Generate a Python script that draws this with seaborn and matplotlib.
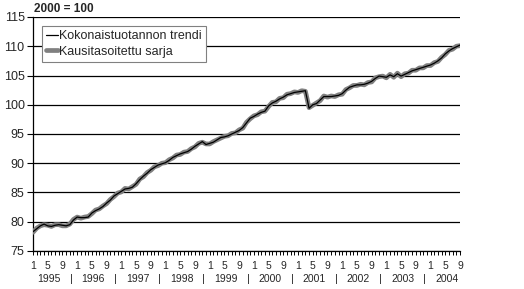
import numpy as np
import pandas as pd
import seaborn as sns
import matplotlib
matplotlib.use("Agg")
import matplotlib.pyplot as plt
import matplotlib.transforms as mtransforms

years = [1995, 1996, 1997, 1998, 1999, 2000, 2001, 2002, 2003, 2004]
month_labels = ["1", "5", "9"]

trend = [
    78.3, 78.8, 79.3, 79.6, 79.3, 79.2, 79.4, 79.5, 79.4, 79.3, 79.5, 80.3,
    80.8, 80.7, 80.7, 80.8, 81.5, 81.9, 82.2, 82.6, 83.2, 83.7, 84.4, 84.8,
    85.2, 85.6, 85.7, 85.9, 86.5, 87.2, 87.8, 88.3, 88.9, 89.3, 89.7, 89.9,
    90.1, 90.5, 91.0, 91.3, 91.6, 91.8, 92.0, 92.4, 92.9, 93.3, 93.7, 93.2,
    93.4, 93.6, 94.0, 94.4, 94.5, 94.7, 95.0, 95.3, 95.6, 96.1, 96.9, 97.7,
    98.0, 98.4, 98.7, 98.9, 99.8, 100.3, 100.6, 101.0, 101.3, 101.7, 101.9, 102.1,
    102.2, 102.3, 102.4, 99.4, 100.0, 100.2, 100.8, 101.4, 101.4, 101.4, 101.5, 101.6,
    101.9, 102.5, 103.0, 103.2, 103.4, 103.4, 103.5, 103.7, 104.0, 104.5, 104.9, 104.8,
    104.7, 105.1, 104.8, 105.3, 104.9, 105.2, 105.5, 105.8, 106.0, 106.2, 106.4, 106.6,
    106.8, 107.1, 107.5, 108.0, 108.7, 109.2, 109.6, 109.9, 110.2,
]

seasonal = [
    78.2, 78.9, 79.3, 79.5, 79.4, 79.2, 79.5, 79.5, 79.3, 79.3, 79.6, 80.4,
    80.8, 80.6, 80.8, 80.9, 81.4, 82.0, 82.2, 82.7, 83.1, 83.8, 84.3, 84.9,
    85.1, 85.7, 85.6, 86.0, 86.4, 87.3, 87.7, 88.4, 88.8, 89.4, 89.6, 90.0,
    90.1, 90.6, 90.9, 91.4, 91.5, 91.9, 92.0, 92.5, 92.8, 93.4, 93.6, 93.3,
    93.3, 93.7, 94.0, 94.3, 94.6, 94.7, 95.1, 95.2, 95.7, 96.0, 97.0, 97.6,
    98.1, 98.3, 98.8, 98.9, 99.7, 100.4, 100.5, 101.1, 101.2, 101.8, 101.9, 102.2,
    102.1, 102.4, 102.3, 99.5, 99.9, 100.3, 100.7, 101.5, 101.3, 101.5, 101.4, 101.7,
    101.8, 102.6, 102.9, 103.3, 103.3, 103.5, 103.4, 103.8, 103.9, 104.6, 104.8, 104.9,
    104.6, 105.2, 104.7, 105.4, 104.8, 105.3, 105.4, 105.9, 105.9, 106.3, 106.3, 106.7,
    106.7, 107.2, 107.4, 108.1, 108.6, 109.3, 109.5, 110.0, 110.1,
]

n = len(trend)
df = pd.DataFrame({"m": np.arange(n), "trend": trend, "seasonal": seasonal})

sns.set_style("white")
plt.rcParams["font.family"] = ["Liberation Sans", "DejaVu Sans"]

fig = plt.figure(figsize=(5.24, 2.89), dpi=100)
ax = fig.add_axes([33 / 524, 1 - 251 / 289, (460 - 33) / 524, (251 - 17) / 289])

sns.lineplot(data=df, x="m", y="seasonal", ax=ax, color="#808080", lw=3.4,
             label="Kausitasoitettu sarja", zorder=3)
sns.lineplot(data=df, x="m", y="trend", ax=ax, color="black", lw=0.9,
             label="Kokonaistuotannon trendi", zorder=4)

ax.set_xlim(0, n - 1)
ax.set_ylim(75, 115)
ax.set_yticks(np.arange(75, 116, 5))
ax.tick_params(axis="y", labelsize=9, length=4, width=0.8, color="black",
               direction="out", left=True, pad=2)
ax.yaxis.grid(True, color="black", lw=0.9)
ax.set_axisbelow(True)

major = []
labels = []
for i, y in enumerate(years):
    for j, lab in zip([0, 4, 8], month_labels):
        if 12 * i + j < n:
            major.append(12 * i + j)
            labels.append(lab)
ax.set_xticks(major)
ax.set_xticklabels(labels)
ax.set_xticks(np.arange(n), minor=True)
ax.tick_params(axis="x", which="both", length=3, width=0.7, color="black",
               direction="out", bottom=True, labelsize=7.5, pad=4)

ax.set_xlabel("")
ax.set_ylabel("")
for s in ["top", "right"]:
    ax.spines[s].set_visible(False)
for s in ["left", "bottom"]:
    ax.spines[s].set_color("black")
    ax.spines[s].set_linewidth(0.9)

trans = mtransforms.blended_transform_factory(ax.transData, ax.transAxes)
for i, y in enumerate(years):
    ax.text(12 * i + 4.4, -0.118, str(y), transform=trans, ha="center",
            va="center", fontsize=7.5)
    if i > 0:
        ax.text(12 * i - 1.6, -0.118, "|", transform=trans, ha="center",
                va="center", fontsize=8)

fig.text(34 / 524, 1 - 9 / 289, "2000 = 100", fontsize=8.5, fontweight="bold",
         ha="left", va="center")

handles, labs = ax.get_legend_handles_labels()
leg = ax.legend(handles[::-1], labs[::-1], loc="upper left",
                bbox_to_anchor=(0.021, 0.96), fontsize=9, frameon=True,
                fancybox=False, edgecolor="#808080", framealpha=1,
                handlelength=1.0, handletextpad=0.1, borderpad=0.3,
                labelspacing=0.3, borderaxespad=0)
leg.get_frame().set_linewidth(0.8)

fig.savefig("out.png", dpi=100)
